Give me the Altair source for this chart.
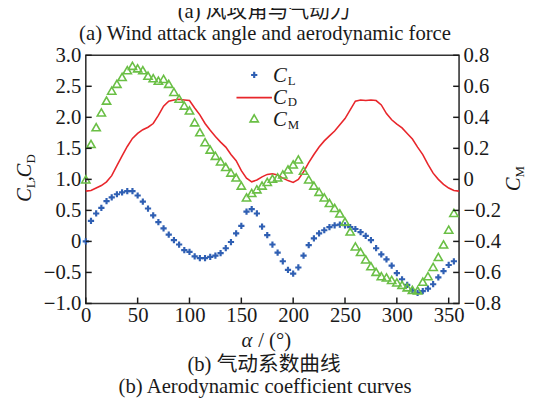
import altair as alt
import pandas as pd

# ---------------- data ----------------
alpha = list(range(0, 360, 5))          # points: 0..355
alpha_cd = list(range(0, 365, 5))       # line: 0..360

cl = [0.00, 0.33, 0.45, 0.54, 0.65, 0.71, 0.76, 0.79, 0.81, 0.81,
      0.74, 0.64, 0.53, 0.42, 0.31, 0.21, 0.11, 0.02, -0.05, -0.14,
      -0.17, -0.24, -0.27, -0.27, -0.25, -0.23, -0.19, -0.11, -0.01, 0.13,
      0.25, 0.48, 0.52, 0.45, 0.24, 0.10, -0.05, -0.18, -0.32, -0.46,
      -0.52, -0.42, -0.23, -0.06, 0.05, 0.13, 0.18, 0.23, 0.26, 0.27,
      0.26, 0.23, 0.20, 0.15, 0.09, 0.02, -0.11, -0.21, -0.29, -0.39,
      -0.51, -0.61, -0.70, -0.79, -0.83, -0.80, -0.76, -0.69, -0.58, -0.48,
      -0.38, -0.32]

cd = [0.81, 0.82, 0.86, 0.90, 0.96, 1.06, 1.22, 1.38, 1.53, 1.66,
      1.74, 1.80, 1.84, 1.90, 2.03, 2.18, 2.26, 2.28, 2.29, 2.28,
      2.27, 2.15, 2.04, 1.90, 1.79, 1.69, 1.60, 1.52, 1.40, 1.30,
      1.14, 1.02, 0.96, 0.99, 1.04, 1.08, 1.09, 1.07, 1.02, 0.98,
      0.95, 1.00, 1.12, 1.27, 1.40, 1.52, 1.62, 1.70, 1.78, 1.88,
      1.98, 2.12, 2.26, 2.28, 2.27, 2.28, 2.27, 2.20, 2.06, 1.96,
      1.89, 1.83, 1.74, 1.65, 1.52, 1.40, 1.24, 1.10, 1.00, 0.92,
      0.86, 0.82, 0.81]

cm = [0.00, 0.228, 0.336, 0.432, 0.508, 0.572, 0.616, 0.66, 0.704, 0.732,
      0.716, 0.704, 0.668, 0.652, 0.636, 0.648, 0.616, 0.564, 0.52, 0.476,
      0.444, 0.368, 0.304, 0.24, 0.192, 0.152, 0.116, 0.08, 0.044, 0.012,
      -0.04, -0.116, -0.088, -0.064, -0.04, -0.016, 0.004, 0.012, 0.032, 0.064,
      0.096, 0.128, 0.056, 0.0, -0.04, -0.08, -0.116, -0.152, -0.184, -0.22,
      -0.272, -0.336, -0.432, -0.468, -0.516, -0.56, -0.596, -0.624, -0.632, -0.648,
      -0.664, -0.68, -0.696, -0.712, -0.716, -0.66, -0.624, -0.564, -0.5, -0.42,
      -0.324, -0.216]

x_ticks = [0, 50, 100, 150, 200, 250, 300, 350]
left_ticks = [-1.0, -0.5, 0.0, 0.5, 1.0, 1.5, 2.0, 2.5, 3.0]
right_ticks = [-0.8, -0.6, -0.4, -0.2, 0.0, 0.2, 0.4, 0.6, 0.8]

title_zh_a = "(a) 风攻角与气动力"
title_en_a = "(a) Wind attack angle and aerodynamic force"
title_zh_b = "(b) 气动系数曲线"
title_en_b = "(b) Aerodynamic coefficient curves"

# ---------------- style ----------------
FONT = "Liberation Serif"
FONT_ZH = "Liberation Serif, Noto Sans CJK SC"
INK = "#1a1a1a"
BLUE = "#2f5fb3"
RED = "#e8262b"
GREEN = "#6abf45"
PLUS = "M-1,0L1,0M0,-1L0,1"
W, H = 379, 252
FS = 21

x_scale = alt.Scale(domain=[0, 360], nice=False, zero=False)
yl_scale = alt.Scale(domain=[-1, 3], nice=False, zero=False)
yr_scale = alt.Scale(domain=[-0.8, 0.8], nice=False, zero=False)

label_expr = "datum.value == 0 ? '0' : format(datum.value, '.1f')"

x_axis = alt.Axis(values=x_ticks, title=None, ticks=False, domain=False, grid=False,
                  labelFont=FONT, labelFontSize=FS, labelColor=INK, labelPadding=1,
                  labelFlush=False)
yl_axis = alt.Axis(values=left_ticks, orient="left", title=None, ticks=False, domain=False,
                   grid=False, labelFont=FONT, labelFontSize=FS, labelColor=INK,
                   labelPadding=5, labelExpr=label_expr, labelFlush=False)
yr_axis = alt.Axis(values=right_ticks, orient="right", title=None, ticks=False, domain=False,
                   grid=False, labelFont=FONT, labelFontSize=FS, labelColor=INK,
                   labelPadding=4, labelExpr=label_expr, labelFlush=False)

df_cl = pd.DataFrame({"alpha": alpha, "v": cl})
df_cd = pd.DataFrame({"alpha": alpha_cd, "v": cd})
df_cm = pd.DataFrame({"alpha": alpha, "m": cm})

blue = alt.Chart(df_cl).mark_point(shape=PLUS, size=40, filled=False, strokeWidth=2.2,
                                   color=BLUE, opacity=1).encode(
    x=alt.X("alpha:Q", scale=x_scale, axis=x_axis),
    y=alt.Y("v:Q", scale=yl_scale, axis=yl_axis))

red = alt.Chart(df_cd).mark_line(color=RED, strokeWidth=1.6).encode(
    x=alt.X("alpha:Q", scale=x_scale, axis=x_axis),
    y=alt.Y("v:Q", scale=yl_scale, axis=None))

green = alt.Chart(df_cm).mark_point(shape="triangle-up", size=70, filled=False,
                                    strokeWidth=1.6, color=GREEN, opacity=1).encode(
    x=alt.X("alpha:Q", scale=x_scale, axis=x_axis),
    y=alt.Y("m:Q", scale=yr_scale, axis=yr_axis))

# inward ticks
lt = alt.Chart(pd.DataFrame({"t": left_ticks})).mark_rule(color=INK, strokeWidth=1.5).encode(
    y=alt.Y("t:Q", scale=yl_scale, axis=None), x=alt.value(0), x2=alt.value(6))
rt = alt.Chart(pd.DataFrame({"t": right_ticks})).mark_rule(color=INK, strokeWidth=1.5).encode(
    y=alt.Y("t:Q", scale=yr_scale, axis=None), x=alt.value(W - 6), x2=alt.value(W))
bt = alt.Chart(pd.DataFrame({"t": x_ticks})).mark_rule(color=INK, strokeWidth=1.5).encode(
    x=alt.X("t:Q", scale=x_scale, axis=x_axis), y=alt.value(H - 6), y2=alt.value(H))


def txt(text, x, y, size=FS, italic=False, align="left", angle=0, font=FONT):
    return alt.Chart(pd.DataFrame({"t": [text]})).mark_text(
        font=font, fontSize=size, fontStyle="italic" if italic else "normal",
        align=align, baseline="alphabetic", angle=angle, color=INK
    ).encode(text="t:N", x=alt.value(x), y=alt.value(y))


texts = [
    txt(title_zh_a, 181, -38, font=FONT_ZH, align="center"),
    txt(title_en_a, 182, -16, align="center"),
    txt(title_zh_b, 181, 321, font=FONT_ZH, align="center"),
    txt(title_en_b, 182, 343, align="center"),
    txt("α", 158, 296, italic=True),
    txt("/ (°)", 175, 296),
    # legend labels
    txt("C", 190, 27, italic=True), txt("L", 205, 30, size=13),
    txt("C", 190, 49, italic=True), txt("D", 205, 52, size=13),
    txt("C", 190, 72, italic=True), txt("M", 205, 75, size=13),
    # left axis title
    txt("C", -56, 149, italic=True, angle=270),
    txt("L", -52, 135, size=13, angle=270),
    txt(",", -56, 128, angle=270),
    txt("C", -56, 124, italic=True, angle=270),
    txt("D", -52, 110, size=13, angle=270),
    # right axis title
    txt("C", 441, 138, italic=True, angle=270),
    txt("M", 445, 124, size=13, angle=270),
]

one = pd.DataFrame({"k": [0]})
leg_plus = alt.Chart(one).mark_point(shape=PLUS, size=40, filled=False, strokeWidth=2.2,
                                     color=BLUE, opacity=1).encode(
    x=alt.value(171), y=alt.value(20))
leg_line = alt.Chart(one).mark_rule(color=RED, strokeWidth=1.6).encode(
    x=alt.value(153), x2=alt.value(189), y=alt.value(43))
leg_tri = alt.Chart(one).mark_point(shape="triangle-up", size=70, filled=False,
                                    strokeWidth=1.6, color=GREEN, opacity=1).encode(
    x=alt.value(171), y=alt.value(64))

chart = alt.layer(red, blue, green, lt, rt, bt, leg_plus, leg_line, leg_tri, *texts).resolve_scale(
    y="independent"
).properties(
    width=W, height=H,
    autosize=alt.AutoSizeParams(type="none"),
    padding={"left": 79, "top": 45, "right": 70, "bottom": 93},
    background="white",
).configure_view(stroke="#333", strokeWidth=1.6)

chart.save("out.html", embed_options={"renderer": "svg", "actions": False})
